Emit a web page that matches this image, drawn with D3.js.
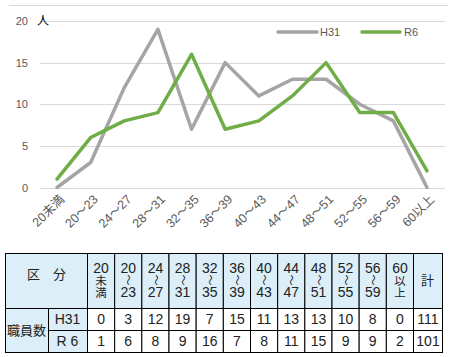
<!DOCTYPE html>
<html><head><meta charset="utf-8">
<script src="https://cdn.jsdelivr.net/npm/d3@7"></script>
<style>
body{margin:0;background:#fff;}
svg{display:block;}
</style></head>
<body>
<svg id="c" width="453" height="357"></svg>
<script>
const categories = ["20未満","20～23","24～27","28～31","32～35","36～39","40～43","44～47","48～51","52～55","56～59","60以上"];
const h31 = [0,3,12,19,7,15,11,13,13,10,8,0];
const r6 = [1,6,8,9,16,7,8,11,15,9,9,2];
const yTicks = [0,5,10,15,20];
const seriesNames = ["H31","R6"];
const headTop = ["20","20","24","28","32","36","40","44","48","52","56","60"];
const headMid = ["未","～","～","～","～","～","～","～","～","～","～","以"];
const headBot = ["満","23","27","31","35","39","43","47","51","55","59","上"];
const totals = [111,101];
const rowNames = ["H31","R 6"];

const svg = d3.select("#c");
const x = d3.scalePoint().domain(categories).range([57,427]);
const y = d3.scaleLinear().domain([0,20]).range([187.5,21]);
const colors = ["#A5A5A5","#70AD47"];
const fontChart = "'Liberation Sans', Arial, sans-serif";
const jf = "'Noto Sans CJK JP', sans-serif";
const mixf = "'Liberation Sans','Noto Sans CJK JP', sans-serif";

// top border
svg.append("line").attr("x1",9).attr("x2",448).attr("y1",5.5).attr("y2",5.5)
  .attr("stroke","#d9d9d9").attr("stroke-width",1);

// gridlines
svg.append("g").selectAll("line").data(yTicks).join("line")
  .attr("x1",40).attr("x2",445)
  .attr("y1",d=>Math.round(y(d))+0.5).attr("y2",d=>Math.round(y(d))+0.5)
  .attr("stroke","#d9d9d9").attr("stroke-width",1);

// y axis labels
svg.append("g").selectAll("text").data(yTicks).join("text")
  .attr("x",28).attr("y",d=>y(d)+4).attr("text-anchor","end")
  .attr("font-family",fontChart).attr("font-size",11).attr("fill","#595959")
  .text(d=>d);
svg.append("text").attr("x",37).attr("y",25).attr("font-size",12)
  .attr("font-family",jf).attr("fill","#000").text("人");

// x labels
svg.append("g").selectAll("text").data(categories).join("text")
  .attr("transform",d=>`translate(${x(d)+5},${197}) rotate(-45)`)
  .attr("text-anchor","end").attr("dy","0.35em")
  .attr("font-family",mixf).attr("font-size",12.5).attr("fill","#595959")
  .text(d=>d);

// lines
const line = d3.line().x((d,i)=>x(categories[i])).y(d=>y(d));
[h31,r6].forEach((s,k)=>{
  svg.append("path").datum(s).attr("d",line).attr("fill","none")
    .attr("stroke",colors[k]).attr("stroke-width",3.5).attr("stroke-linejoin","round").attr("stroke-linecap","round");
});

// legend
const lg = [{x1:278,x2:317,tx:320},{x1:362,x2:400,tx:404}];
lg.forEach((l,k)=>{
  svg.append("line").attr("x1",l.x1).attr("x2",l.x2).attr("y1",32).attr("y2",32)
    .attr("stroke",colors[k]).attr("stroke-width",3.5).attr("stroke-linecap","round");
  svg.append("text").attr("x",l.tx).attr("y",36).attr("font-family",fontChart)
    .attr("font-size",11).attr("fill","#595959").text(seriesNames[k]);
});

// table
const tb = svg.append("g");
const blue = "#DCEEF8";
const tTop = 253, tHead = 308, tRow1 = 330, tBot = 352;
const colX = d3.scaleBand().domain(d3.range(12)).range([87,413]);
const tf = "'Liberation Sans', Arial, sans-serif";
function cell(x0,y0,w,h,fill){
  tb.append("rect").attr("x",x0+0.5).attr("y",y0+0.5).attr("width",w).attr("height",h)
    .attr("fill",fill).attr("stroke","#000").attr("stroke-width",1);
}
cell(5,tTop,82,tHead-tTop,blue);
cell(5,tHead,43,tBot-tHead,blue);
cell(48,tHead,39,tRow1-tHead,blue);
cell(48,tRow1,39,tBot-tRow1,blue);
d3.range(12).forEach(i=>{
  cell(colX(i),tTop,colX.bandwidth(),tHead-tTop,blue);
  cell(colX(i),tHead,colX.bandwidth(),tRow1-tHead,"#fff");
  cell(colX(i),tRow1,colX.bandwidth(),tBot-tRow1,"#fff");
});
cell(413,tTop,29,tHead-tTop,blue);
cell(413,tHead,29,tRow1-tHead,"#fff");
cell(413,tRow1,29,tBot-tRow1,"#fff");

tb.append("text").attr("x",46.5).attr("y",279).attr("text-anchor","middle")
  .attr("font-family",jf).attr("font-size",13).attr("fill","#222").text("区　分");
tb.append("text").attr("x",427.5).attr("y",285).attr("text-anchor","middle")
  .attr("font-family",jf).attr("font-size",13).attr("fill","#222").text("計");
tb.append("text").attr("x",26.5).attr("y",335).attr("text-anchor","middle")
  .attr("font-family",jf).attr("font-size",13).attr("fill","#222").text("職員数");
rowNames.forEach((r,k)=>{
  tb.append("text").attr("x",67.5).attr("y",[324,346][k]).attr("text-anchor","middle")
    .attr("font-family",tf).attr("font-size",14).attr("fill","#222").text(r);
});
const hc = tb.append("g").attr("font-size",14).attr("fill","#222").attr("text-anchor","middle");
d3.range(12).forEach(i=>{
  const cx = colX(i)+colX.bandwidth()/2+0.5;
  hc.append("text").attr("x",cx).attr("y",272.5).attr("font-family",tf).text(headTop[i]);
  const mid = headMid[i];
  if(mid==="～"){
    hc.append("text").attr("transform",`translate(${cx},280) rotate(90)`)
      .attr("dy","0.35em").attr("font-family",jf).attr("font-size",11).text(mid);
  } else {
    hc.append("text").attr("x",cx).attr("y",284.5).attr("font-family",jf).attr("font-size",11.5).text(mid);
  }
  const isJ = (headBot[i]==="満"||headBot[i]==="上");
  hc.append("text").attr("x",cx).attr("y",297).attr("font-family",isJ?jf:tf).attr("font-size",isJ?11.5:14).text(headBot[i]);
});
const dc = tb.append("g").attr("font-family",tf).attr("font-size",14).attr("fill","#222").attr("text-anchor","middle");
[h31,r6].forEach((s,k)=>{
  const yy = [324,346][k];
  s.forEach((v,i)=>{
    dc.append("text").attr("x",colX(i)+colX.bandwidth()/2+0.5).attr("y",yy).text(v);
  });
  dc.append("text").attr("x",428).attr("y",yy).text(totals[k]);
});
</script>
</body></html>
